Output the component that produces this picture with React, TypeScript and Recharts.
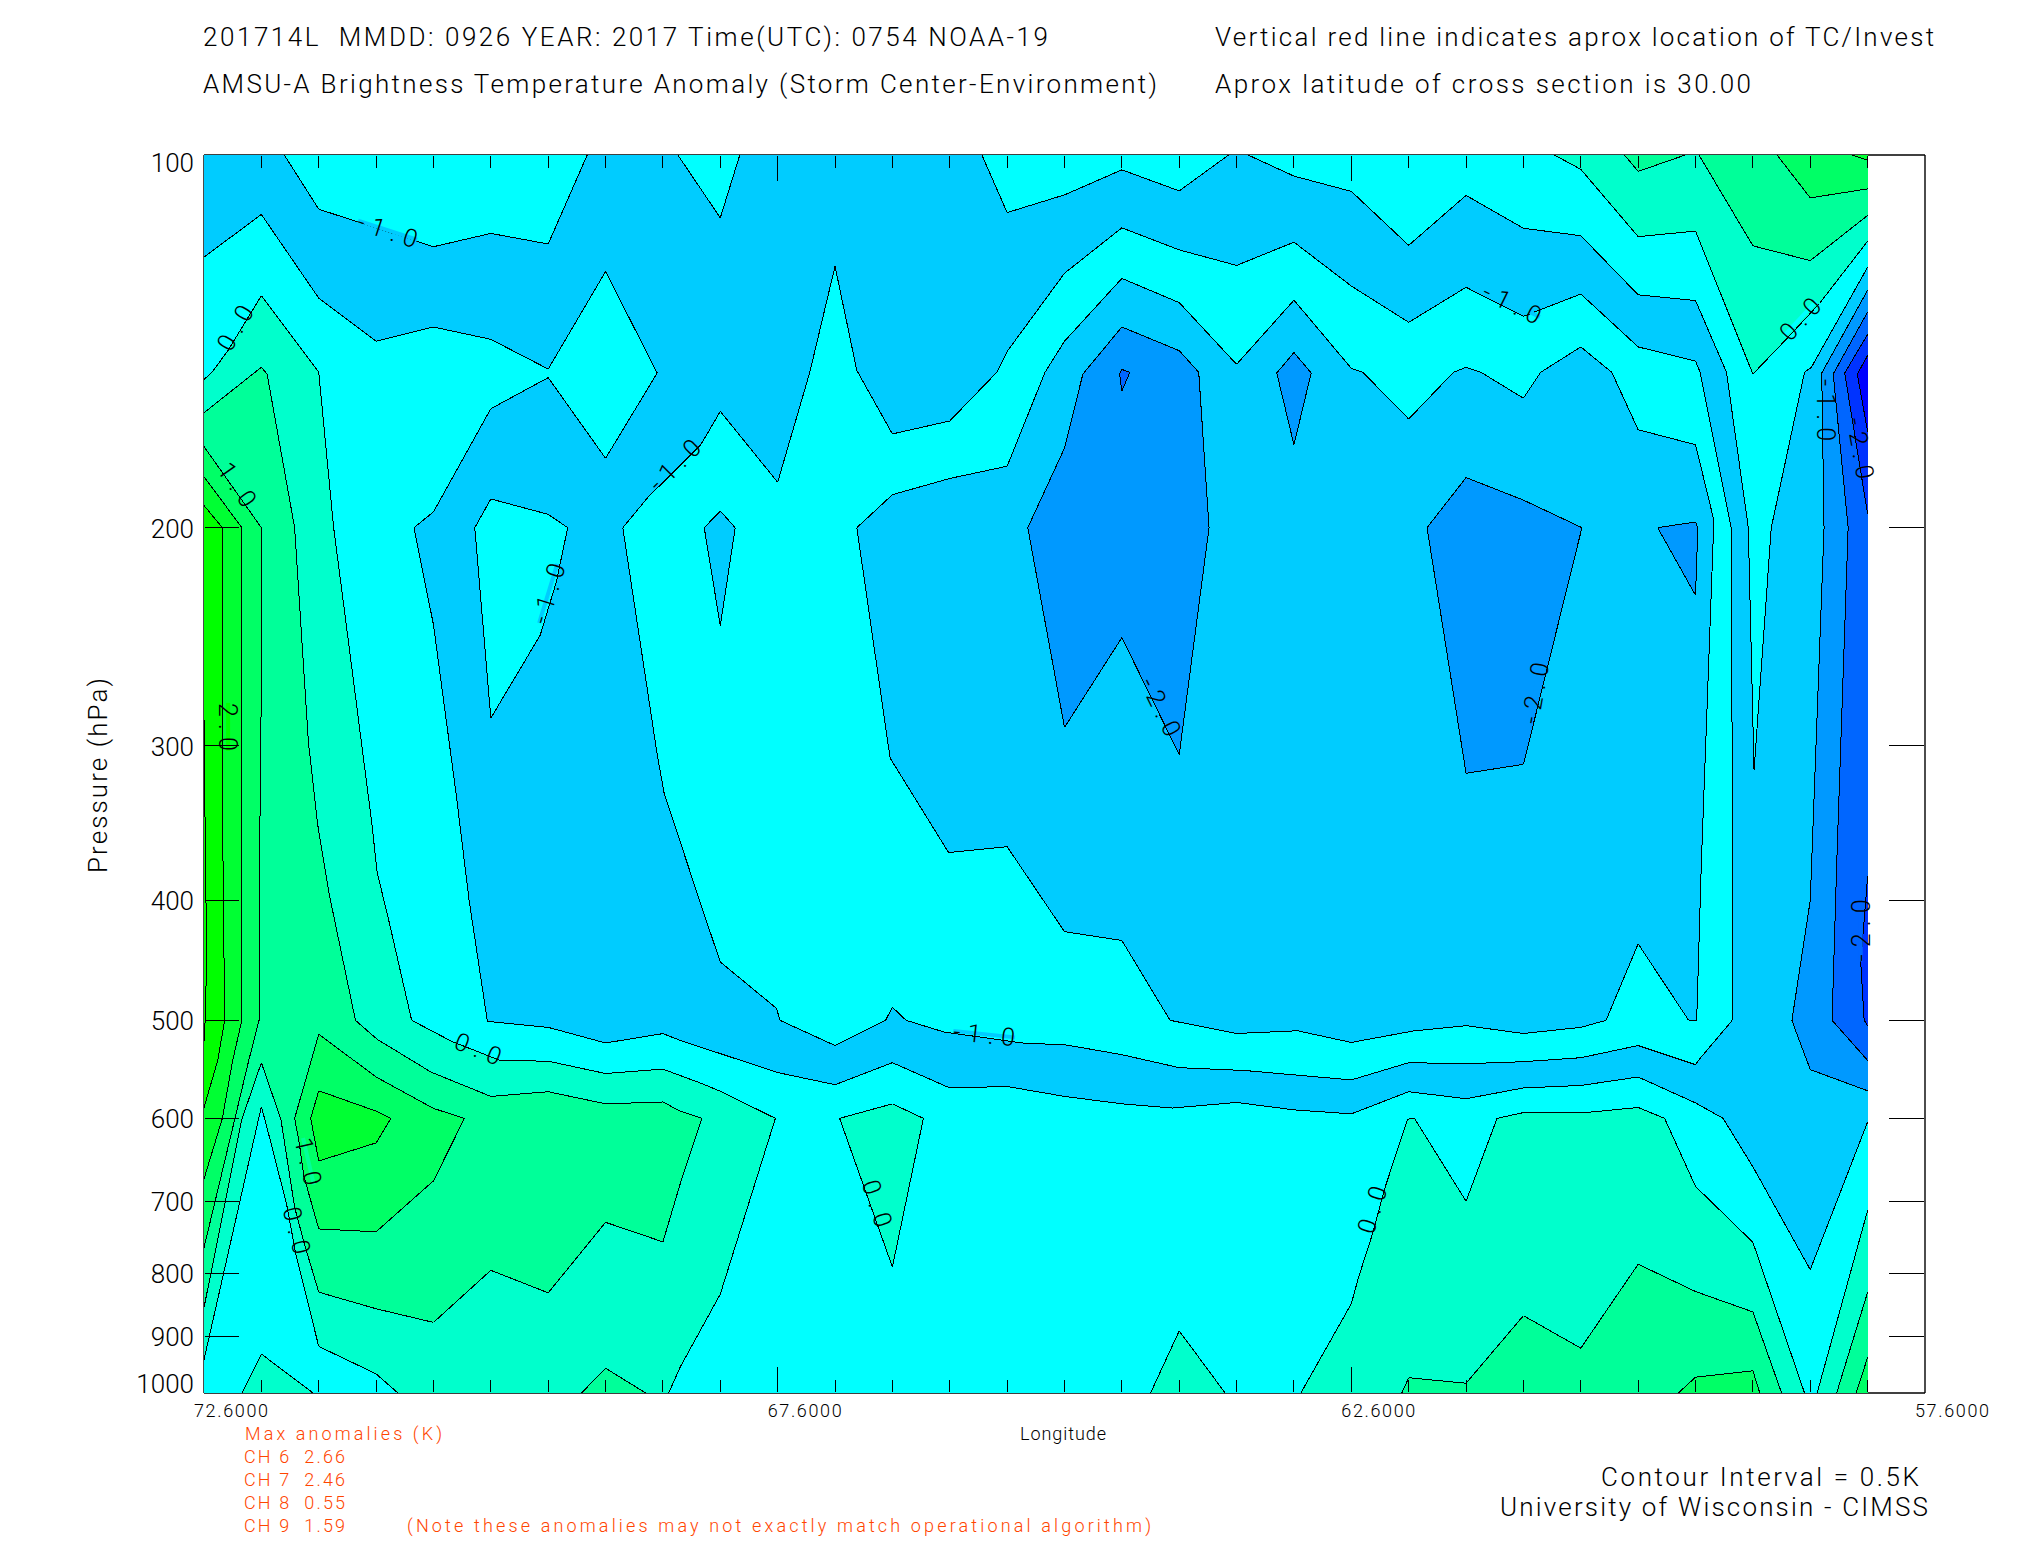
import { ScatterChart, Scatter, XAxis, YAxis } from "recharts";

type Vertex = [number, number]; // longitude, pressure

const longitudeTicks = [
  72.6, 72.1, 71.6, 71.1, 70.6, 70.1, 69.6, 69.1, 68.6, 68.1, 67.6, 67.1, 66.6, 66.1, 65.6, 65.1,
  64.6, 64.1, 63.6, 63.1, 62.6, 62.1, 61.6, 61.1, 60.6, 60.1, 59.6, 59.1, 58.6, 58.1, 57.6,
];
const longitudeLabels = [72.6, 67.6, 62.6, 57.6];
const longitudeMajor = [67.6, 62.6];
const pressureTicks = [100, 200, 300, 400, 500, 600, 700, 800, 900, 1000];

const wholeSection: Vertex[] = [[72.6, 100], [58.1, 100], [58.1, 1000], [72.6, 1000]];

const outerRing: Vertex[] = [
  [72.6, 100], [71.9, 100], [71.6, 110.6], [70.6, 118.6], [70.1, 115.7], [69.6, 118], [69.26, 100],
  [68.47, 100], [68.1, 112.4], [67.93, 100], [65.82, 100], [65.6, 111.3], [65.1, 107.7], [64.6, 102.8],
  [64.1, 106.9], [63.67, 100], [63.5, 100], [63.1, 104], [62.6, 107], [62.1, 118.3], [61.6, 107.8],
  [61.1, 114.6], [60.6, 116.2], [60.1, 129.7], [59.6, 131.1], [59.33, 149.8], [59.14, 200], [59.09, 314],
  [58.94, 200], [58.65, 149.8], [58.59, 148.4], [58.1, 123.2], [58.1, 604], [58.6, 795], [59.1, 656.6],
  [59.36, 600], [59.6, 583], [60.1, 555.6], [60.6, 564.4], [61.1, 567], [61.6, 578.5], [62.1, 571],
  [62.6, 595], [63.1, 590.6], [63.6, 582.5], [64.16, 588.6], [64.6, 584], [65.1, 576], [65.6, 565.5],
  [66.1, 567], [66.6, 541], [67.1, 563.6], [67.6, 551], [68.45, 519], [68.6, 512.5], [69.1, 521.5],
  [69.6, 506.6], [70.13, 501], [70.29, 399.6], [70.4, 329.6], [70.6, 239.6], [70.77, 200], [70.6, 194.2],
  [70.1, 160.3], [69.6, 151.3], [69.1, 175.8], [68.65, 150], [69.1, 124.2], [69.6, 148.9], [70.1, 140.9],
  [70.6, 137.7], [71.1, 141.4], [71.6, 130.5], [72.1, 111.7], [72.6, 120.9],
];
const leftIsland: Vertex[] = [
  [70.24, 200], [70.1, 189.6], [69.6, 195.1], [69.43, 200], [69.53, 221.4], [69.67, 244.3], [70.1, 285],
];
const innerRing: Vertex[] = [
  [68.95, 200], [68.73, 189], [68.27, 171.4], [68.1, 161.1], [67.6, 183.8], [67.32, 149.8], [67.1, 123],
  [66.91, 149.3], [66.6, 168], [66.1, 164], [65.69, 149.8], [65.6, 144.1], [65.1, 124.6], [64.6, 114.5],
  [64.1, 119.3], [63.6, 122.8], [63.1, 117.6], [62.6, 127.6], [62.1, 136.5], [61.6, 127.9], [61.1, 135],
  [60.6, 129.5], [60.1, 142.9], [59.6, 146.7], [59.56, 149.8], [59.29, 200], [59.28, 316], [59.28, 500],
  [59.57, 538], [59.6, 543], [60.1, 524], [60.6, 536], [61.1, 540], [61.6, 542], [62.1, 541], [62.6, 558.6],
  [63.52, 549], [64.1, 546], [64.6, 533], [65.08, 523.5], [65.47, 521.5], [66.15, 511], [66.48, 500],
  [66.6, 488], [66.66, 500], [67.1, 524], [67.58, 500], [67.61, 489], [68.1, 448.6], [68.27, 403],
  [68.59, 327.5], [68.65, 305],
];
const coreRegion: Vertex[] = [
  [66.91, 200], [66.62, 307], [66.11, 366], [65.6, 362], [65.1, 424], [64.6, 431], [64.18, 500], [63.6, 512.4],
  [63.07, 509.8], [62.6, 521], [62.06, 510], [61.6, 505], [61.1, 512.4], [60.6, 506.6], [60.38, 500],
  [60.1, 433.7], [59.66, 500], [59.59, 500.5], [59.55, 375], [59.44, 197.3], [59.6, 171.4], [60.1, 166.7],
  [60.33, 149.8], [60.6, 142.9], [60.95, 149.8], [61.1, 157.2], [61.47, 149.8], [61.6, 148.4], [61.71, 149.8],
  [62.1, 163.4], [62.5, 149.8], [62.6, 148.7], [63.1, 131], [63.6, 147.6], [64.1, 131.6], [64.6, 125.8],
  [65.1, 141.4], [65.27, 149.8], [65.6, 178.4], [66.1, 182.5], [66.6, 188.1],
];
const smallSpot: Vertex[] = [[68.24, 200], [68.1, 193.9], [67.97, 200], [68.1, 240]];
const coldBlobA: Vertex[] = [
  [64.6, 137.7], [64.1, 143.9], [63.93, 149.8], [63.84, 200], [64.1, 305], [64.6, 245.4], [65.1, 290],
  [65.42, 200], [65.1, 172.5], [64.94, 150.3],
];
const coldBlobACore: Vertex[] = [[64.6, 149], [64.53, 149.8], [64.6, 155.1], [64.62, 150.3]];
const coldSliver: Vertex[] = [[63.1, 144.4], [62.95, 150], [63.1, 171.4], [63.25, 150]];
const coldBlobB: Vertex[] = [[61.6, 182.2], [61.1, 190], [60.59, 200], [61.1, 310.6], [61.6, 315.8], [61.94, 200]];
const coldTriangle: Vertex[] = [[59.93, 200], [59.6, 197.9], [59.58, 200], [59.6, 226.8]];
const eastEdge1: Vertex[] = [
  [58.1, 128.6], [58.5, 150], [58.48, 200], [58.6, 400], [58.76, 500], [58.73, 509], [58.6, 548], [58.1, 570],
];
const eastEdge2: Vertex[] = [[58.1, 133.9], [58.4, 150.3], [58.27, 200], [58.37, 375], [58.41, 500], [58.1, 538.7]];
const eastEdge3Upper: Vertex[] = [[58.1, 139.6], [58.3, 150], [58.1, 195]];
const eastEdge3Lower: Vertex[] = [[58.1, 382.6], [58.16, 449], [58.13, 500], [58.1, 505]];
const eastEdge4: Vertex[] = [[58.1, 145.2], [58.19, 150.3], [58.1, 167.3]];

const westZero: Vertex[] = [
  [72.6, 151.8], [72.53, 149.8], [72.39, 143.8], [72.1, 129.9], [71.6, 149.8], [71.47, 200], [71.36, 239.6],
  [71.14, 345], [71.09, 380], [70.99, 415], [70.79, 500], [70.44, 520], [70.02, 538.7], [69.6, 539.5],
  [69.1, 552], [68.6, 547.5], [68.27, 562], [68.1, 570.5], [67.62, 600], [68.1, 832], [68.45, 953],
  [68.55, 1000], [70.91, 1000], [71.1, 965], [71.6, 917], [71.8, 772], [71.88, 704], [72.04, 616],
  [72.1, 587], [72.6, 940],
];
const westHalf: Vertex[] = [
  [72.6, 161.5], [72.1, 148.4], [72.05, 150.3], [71.81, 200], [71.69, 298], [71.61, 347], [71.51, 395],
  [71.28, 500], [71.09, 518], [70.62, 550.6], [70.1, 576], [69.6, 571], [69.1, 584], [68.6, 582], [68.45, 592],
  [68.26, 600], [68.45, 678], [68.6, 755], [69.1, 728], [69.6, 830], [70.1, 796], [70.6, 877], [71.1, 855],
  [71.6, 829], [71.73, 755], [71.81, 708], [71.93, 601], [72.1, 541], [72.27, 601], [72.6, 853],
];
const westOne: Vertex[] = [
  [72.6, 172], [72.1, 200], [72.1, 266.8], [72.12, 407], [72.12, 500], [72.21, 538.7], [72.33, 600], [72.6, 763],
];
const westOneHalf: Vertex[] = [
  [72.6, 181.9], [72.27, 200], [72.27, 308], [72.27, 500], [72.35, 538.7], [72.44, 600], [72.6, 671.6],
];
const westTwo: Vertex[] = [
  [72.6, 191.9], [72.44, 200], [72.44, 330], [72.42, 500], [72.48, 538.7], [72.6, 588],
];
const westTwoHalf: Vertex[] = [[72.6, 285], [72.585, 390], [72.575, 440], [72.59, 500], [72.6, 520]];
const lowBlobOne: Vertex[] = [
  [71.6, 513], [71.1, 555.6], [70.6, 589], [70.33, 600], [70.6, 674], [71.1, 741], [71.6, 737], [71.73, 668],
  [71.77, 628], [71.81, 600],
];
const lowBlobOneHalf: Vertex[] = [[71.6, 570], [71.1, 592], [70.97, 600], [71.1, 628], [71.6, 649.5], [71.67, 600]];
const surfaceWest: Vertex[] = [[72.27, 1000], [72.1, 930], [71.65, 1000]];
const surfaceMid: Vertex[] = [[69.31, 1000], [69.1, 955], [68.75, 1000]];
const midKite: Vertex[] = [[67.06, 600], [66.6, 584], [66.33, 600], [66.6, 791]];
const surfacePeak: Vertex[] = [[64.35, 1000], [64.1, 891], [63.7, 1000]];
const southEastZero: Vertex[] = [
  [63.04, 1000], [62.6, 847], [62.54, 808], [62.41, 741], [62.31, 684], [62.11, 601], [62.05, 600], [61.6, 700],
  [61.33, 600], [61.1, 593.6], [60.56, 593.6], [60.1, 588], [59.87, 600], [59.6, 681], [59.1, 755.6], [58.65, 1000],
];
const southEastHalf: Vertex[] = [
  [62.16, 1000], [62.1, 972], [61.6, 982], [61.1, 866], [60.6, 920], [60.1, 787], [59.6, 828], [59.1, 860], [58.85, 1000],
];
const southEastOne: Vertex[] = [[59.75, 1000], [59.6, 971], [59.1, 959.6], [59.04, 1000]];
const cornerZero: Vertex[] = [[58.54, 1000], [58.1, 712], [58.1, 1000]];
const cornerHalf: Vertex[] = [[58.37, 1000], [58.1, 829], [58.1, 1000]];
const cornerOne: Vertex[] = [[58.2, 1000], [58.1, 936], [58.1, 1000]];
const northEastZero: Vertex[] = [
  [60.83, 100], [60.6, 102.7], [60.1, 116.4], [59.6, 115.2], [59.1, 150.3], [58.81, 140.9], [58.52, 131.8],
  [58.1, 117.4], [58.1, 100],
];
const northNotch: Vertex[] = [[60.22, 100], [60.1, 103.1], [59.69, 100]];
const northEastHalf: Vertex[] = [[59.57, 100], [59.1, 118.4], [58.6, 121.7], [58.1, 111.9], [58.1, 100]];
const northEastOne: Vertex[] = [[58.89, 100], [58.6, 108.3], [58.1, 106.5], [58.1, 101], [58.24, 100]];
const northEastOneHalf: Vertex[] = [[58.24, 100], [58.1, 101], [58.1, 100]];

const CYAN = "#00FFFF";
const SKY = "#00CCFF";
const BLUE1 = "#0099FF";
const BLUE2 = "#0066FF";
const BLUE3 = "#0033FF";
const BLUE4 = "#0000FF";
const TEAL = "#00FFCC";
const GREEN1 = "#00FF99";
const GREEN2 = "#00FF66";
const GREEN3 = "#00FF33";
const GREEN4 = "#00FF00";

// painted back to front
const bands: { verts: Vertex[]; fill: string }[] = [
  { verts: wholeSection, fill: CYAN },
  { verts: outerRing, fill: SKY },
  { verts: leftIsland, fill: CYAN },
  { verts: innerRing, fill: CYAN },
  { verts: coreRegion, fill: SKY },
  { verts: smallSpot, fill: SKY },
  { verts: coldBlobA, fill: BLUE1 },
  { verts: coldBlobACore, fill: BLUE2 },
  { verts: coldSliver, fill: BLUE1 },
  { verts: coldBlobB, fill: BLUE1 },
  { verts: coldTriangle, fill: BLUE1 },
  { verts: eastEdge1, fill: BLUE1 },
  { verts: eastEdge2, fill: BLUE2 },
  { verts: eastEdge3Upper, fill: BLUE3 },
  { verts: eastEdge3Lower, fill: BLUE3 },
  { verts: eastEdge4, fill: BLUE4 },
  { verts: westZero, fill: TEAL },
  { verts: westHalf, fill: GREEN1 },
  { verts: westOne, fill: GREEN2 },
  { verts: westOneHalf, fill: GREEN3 },
  { verts: westTwo, fill: GREEN4 },
  { verts: westTwoHalf, fill: GREEN4 },
  { verts: lowBlobOne, fill: GREEN2 },
  { verts: lowBlobOneHalf, fill: GREEN3 },
  { verts: surfaceWest, fill: TEAL },
  { verts: surfaceMid, fill: GREEN1 },
  { verts: midKite, fill: TEAL },
  { verts: surfacePeak, fill: TEAL },
  { verts: southEastZero, fill: TEAL },
  { verts: southEastHalf, fill: GREEN1 },
  { verts: southEastOne, fill: GREEN2 },
  { verts: cornerZero, fill: TEAL },
  { verts: cornerHalf, fill: GREEN1 },
  { verts: cornerOne, fill: GREEN2 },
  { verts: northEastZero, fill: TEAL },
  { verts: northNotch, fill: GREEN1 },
  { verts: northEastHalf, fill: GREEN1 },
  { verts: northEastOne, fill: GREEN2 },
  { verts: northEastOneHalf, fill: GREEN3 },
];

const contourLabels = [
  { lon: 71.0, p: 115, text: "-1.0", angle: 18, seam: SKY },
  { lon: 72.33, p: 137.9, text: "0.0", angle: -60, seam: CYAN },
  { lon: 72.31, p: 184.6, text: "1.0", angle: 55, seam: GREEN1 },
  { lon: 68.5, p: 178, text: "-1.0", angle: -45, seam: SKY },
  { lon: 61.2, p: 131.8, text: "-1.0", angle: 26, seam: SKY },
  { lon: 69.6, p: 226, text: "-1.0", angle: -73, seam: SKY },
  { lon: 72.39, p: 289.7, text: "2.0", angle: 90, seam: GREEN4 },
  { lon: 64.26, p: 279, text: "-2.0", angle: 64, seam: BLUE1 },
  { lon: 61.0, p: 272, text: "-2.0", angle: -80, seam: BLUE1 },
  { lon: 58.69, p: 135.6, text: "0.0", angle: -47, seam: CYAN },
  { lon: 58.46, p: 160.7, text: "-1.0", angle: 90, seam: BLUE1 },
  { lon: 58.16, p: 172.5, text: "-2.0", angle: 80, seam: BLUE3 },
  { lon: 58.16, p: 423, text: "-2.0", angle: -90, seam: BLUE2 },
  { lon: 70.21, p: 527, text: "0.0", angle: 22, seam: CYAN },
  { lon: 65.8, p: 513, text: "-1.0", angle: 6, seam: SKY },
  { lon: 71.69, p: 650, text: "1.0", angle: 77, seam: GREEN1 },
  { lon: 71.79, p: 739, text: "0.0", angle: 76, seam: TEAL },
  { lon: 66.73, p: 702.6, text: "0.0", angle: 72, seam: TEAL },
  { lon: 62.42, p: 711, text: "0.0", angle: -73, seam: CYAN },
];

const headerLines = [
  { x: 203, y: 46, len: 845, text: "201714L  MMDD: 0926 YEAR: 2017 Time(UTC): 0754 NOAA-19" },
  { x: 203, y: 93, len: 954, text: "AMSU-A Brightness Temperature Anomaly (Storm Center-Environment)" },
  { x: 1215, y: 46, len: 719, text: "Vertical red line indicates aprox location of TC/Invest" },
  { x: 1215, y: 93, len: 536, text: "Aprox latitude of cross section is 30.00" },
];
const anomalyLines = [
  { x: 245, y: 1440, len: 197, text: "Max anomalies (K)" },
  { x: 244, y: 1463, len: 101, text: "CH 6  2.66" },
  { x: 244, y: 1486, len: 101, text: "CH 7  2.46" },
  { x: 244, y: 1509, len: 101, text: "CH 8  0.55" },
  { x: 244, y: 1532, len: 101, text: "CH 9  1.59" },
  { x: 407, y: 1532, len: 744, text: "(Note these anomalies may not exactly match operational algorithm)" },
];
const creditLines = [
  { x: 1601, y: 1486, len: 318, text: "Contour Interval = 0.5K" },
  { x: 1500, y: 1516, len: 428, text: "University of Wisconsin - CIMSS" },
];

const FONT = "Roboto, 'Liberation Sans', sans-serif";

const onFrame = (a: Vertex, b: Vertex) =>
  (a[0] === b[0] && (a[0] === 58.1 || a[0] === 72.6)) || (a[1] === b[1] && (a[1] === 100 || a[1] === 1000));

function BandShape({ points, verts, fill }: any) {
  const outline = points.map((pt: any, i: number) => `${i ? "L" : "M"}${pt.x} ${pt.y}`).join(" ") + " Z";
  let edges = "";
  points.forEach((pt: any, i: number) => {
    const j = (i + 1) % points.length;
    if (!onFrame(verts[i], verts[j])) edges += `M${pt.x} ${pt.y} L${points[j].x} ${points[j].y} `;
  });
  return (
    <g shapeRendering="crispEdges">
      <path d={outline} fill={fill} stroke="none" />
      <path d={edges} fill="none" stroke="#000" strokeWidth={1} />
    </g>
  );
}

function ContourLabel({ cx, cy, payload }: any) {
  const wide = payload.text.length > 3 ? 62 : 48;
  return (
    <g transform={`rotate(${payload.angle} ${cx} ${cy})`}>
      <rect x={cx - wide / 2} y={cy - 2} width={wide} height={4} fill={payload.seam} />
      <text
        x={cx - wide / 2}
        y={cy + 9}
        textLength={wide}
        fontFamily={FONT}
        fontWeight={300}
        fontSize={25}
        fill="#000"
      >
        {payload.text}
      </text>
    </g>
  );
}

function BottomTick({ x, y, payload }: any) {
  const v = payload.value;
  const size = longitudeMajor.includes(v) ? 25 : 12;
  return (
    <g>
      {v > 57.7 && v < 72.5 && <line x1={x} x2={x} y1={y - 1} y2={y - 1 - size} stroke="#000" strokeWidth={1} shapeRendering="crispEdges" />}
      {longitudeLabels.includes(v) && (
        <text x={x - 10} y={y + 24} textLength={74} fontFamily={FONT} fontWeight={300} fontSize={18} fill="#000">
          {v.toFixed(4)}
        </text>
      )}
    </g>
  );
}

function TopTick({ x, y, payload }: any) {
  const v = payload.value;
  if (v < 57.7 || v > 72.5) return <g />;
  const size = longitudeMajor.includes(v) ? 25 : 12;
  return <line x1={x} x2={x} y1={y + 1} y2={y + 1 + size} stroke="#000" strokeWidth={1} shapeRendering="crispEdges" />;
}

function LeftTick({ x, y, payload }: any) {
  const v = payload.value;
  const drop = v === 100 ? 17 : v === 1000 ? 0 : 10;
  return (
    <g>
      {v > 100 && v < 1000 && <line x1={x + 1} x2={x + 35} y1={y} y2={y} stroke="#000" strokeWidth={1} shapeRendering="crispEdges" />}
      <text x={x - 10} y={y + drop} textAnchor="end" fontFamily={FONT} fontWeight={300} fontSize={26} fill="#000">
        {v}
      </text>
    </g>
  );
}

function RightTick({ x, y, payload }: any) {
  const v = payload.value;
  if (v === 100 || v === 1000) return <g />;
  return <line x1={x - 1} x2={x - 36} y1={y} y2={y} stroke="#000" strokeWidth={1} shapeRendering="crispEdges" />;
}

function TextLines({ rows, size, fill }: any) {
  return rows.map((r: any) => (
    <text key={r.text} x={r.x} y={r.y} textLength={r.len} fontFamily={FONT} fontWeight={300} fontSize={size} fill={fill} xmlSpace="preserve">
      {r.text}
    </text>
  ));
}

export default function App() {
  return (
    <div style={{ position: "absolute", left: 0, top: 0, width: 2025, height: 1550, background: "#fff" }}>
      <ScatterChart width={2025} height={1550} margin={{ top: 154, right: 99, bottom: 156, left: 203 }}>
        {bands.map((band, i) => (
          <Scatter
            key={i}
            xAxisId="bottom"
            yAxisId="left"
            data={band.verts.map(([lon, p]) => ({ lon, p }))}
            isAnimationActive={false}
            shape={() => <g />}
            line={(lineProps: any) => <BandShape points={lineProps.points} verts={band.verts} fill={band.fill} />}
          />
        ))}
        <Scatter
          xAxisId="bottom"
          yAxisId="left"
          data={contourLabels}
          isAnimationActive={false}
          shape={(props: any) => <ContourLabel {...props} />}
        />
        <XAxis
          xAxisId="bottom"
          orientation="bottom"
          type="number"
          dataKey="lon"
          domain={[57.6, 72.6]}
          reversed
          allowDataOverflow
          ticks={longitudeTicks}
          interval={0}
          height={1}
          tickLine={false}
          tickSize={0}
          tickMargin={0}
          stroke="#000"
          strokeWidth={1.4}
          tick={(p: any) => <BottomTick {...p} />}
        />
        <XAxis
          xAxisId="top"
          orientation="top"
          type="number"
          dataKey="lon"
          domain={[57.6, 72.6]}
          reversed
          allowDataOverflow
          ticks={longitudeTicks}
          interval={0}
          height={1}
          tickLine={false}
          tickSize={0}
          tickMargin={0}
          stroke="#000"
          strokeWidth={1.4}
          tick={(p: any) => <TopTick {...p} />}
        />
        <YAxis
          yAxisId="left"
          orientation="left"
          type="number"
          dataKey="p"
          scale="log"
          domain={[100, 1000]}
          reversed
          allowDataOverflow
          ticks={pressureTicks}
          interval={0}
          width={1}
          tickLine={false}
          tickSize={0}
          tickMargin={0}
          stroke="#000"
          strokeWidth={1.4}
          tick={(p: any) => <LeftTick {...p} />}
        />
        <YAxis
          yAxisId="right"
          orientation="right"
          type="number"
          dataKey="p"
          scale="log"
          domain={[100, 1000]}
          reversed
          allowDataOverflow
          ticks={pressureTicks}
          interval={0}
          width={1}
          tickLine={false}
          tickSize={0}
          tickMargin={0}
          stroke="#000"
          strokeWidth={1.4}
          tick={(p: any) => <RightTick {...p} />}
        />
        <TextLines rows={headerLines} size={26} fill="#000" />
        <TextLines rows={anomalyLines} size={18} fill="#FF4500" />
        <TextLines rows={creditLines} size={26} fill="#000" />
        <text x={1020} y={1440} textLength={86} fontFamily={FONT} fontWeight={300} fontSize={18} fill="#000">
          Longitude
        </text>
        <text
          transform="translate(107 873) rotate(-90)"
          textLength={195}
          fontFamily={FONT}
          fontWeight={300}
          fontSize={26}
          fill="#000"
        >
          Pressure (hPa)
        </text>
      </ScatterChart>
    </div>
  );
}
